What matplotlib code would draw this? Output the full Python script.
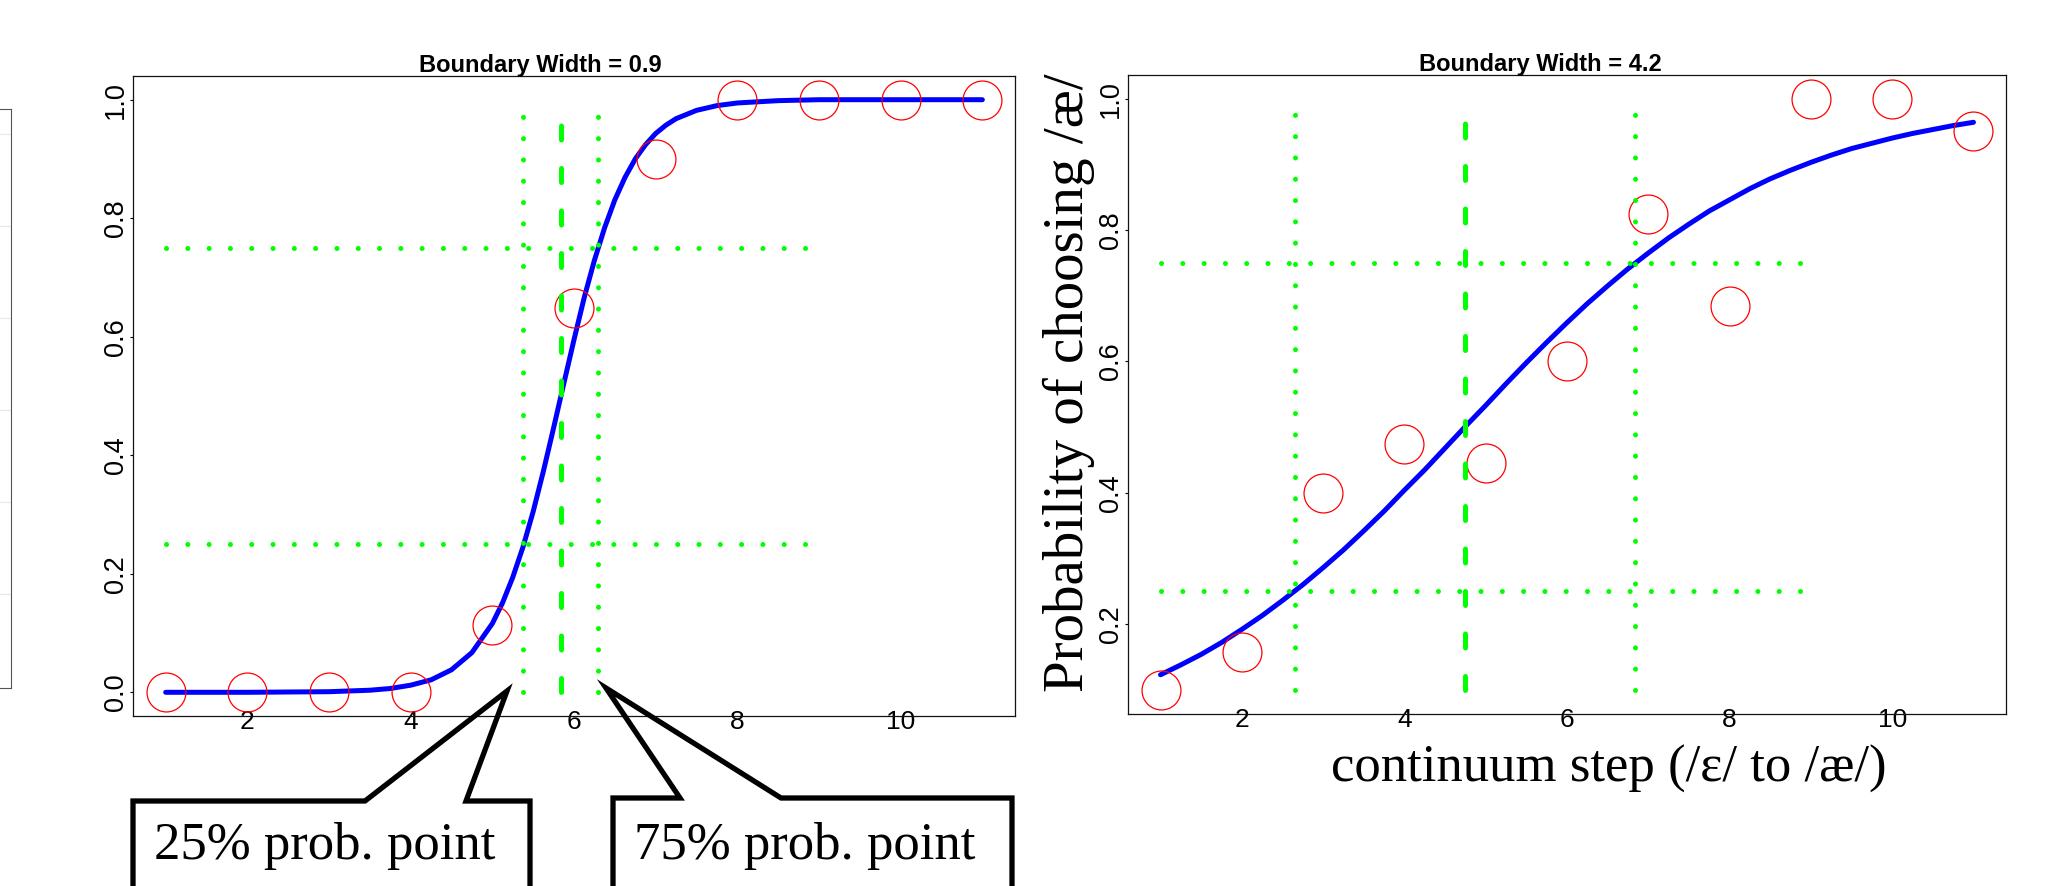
import matplotlib
matplotlib.use('Agg')
import matplotlib.pyplot as plt
from matplotlib.lines import Line2D
from matplotlib.ticker import FormatStrFormatter

# --- data ---
steps = [1, 2, 3, 4, 5, 6, 7, 8, 9, 10, 11]

narrow_resp = [0.0, 0.0, 0.0, 0.0, 0.113, 0.649, 0.90, 1.0, 1.0, 1.0, 1.0]
wide_resp = [0.10, 0.158, 0.40, 0.474, 0.445, 0.60, 0.825, 0.685, 1.0, 1.0, 0.951]

# fitted curves
narrow_fit_x = [1, 2, 3, 3.5, 3.75, 4, 4.25, 4.5, 4.75, 5, 5.125, 5.25, 5.375,
                5.5, 5.625, 5.75, 5.875, 6, 6.125, 6.25, 6.375, 6.5, 6.625,
                6.75, 6.875, 7, 7.125, 7.25, 7.5, 7.75, 8, 8.5, 9, 10, 11]
narrow_fit_y = [0.0, 0.0, 0.001, 0.0035, 0.0064, 0.012, 0.021, 0.038, 0.067,
                0.116, 0.151, 0.194, 0.245, 0.305, 0.373, 0.446, 0.521, 0.595,
                0.666, 0.729, 0.784, 0.831, 0.869, 0.90, 0.924, 0.943, 0.957,
                0.968, 0.982, 0.990, 0.9945, 0.9984, 1.0, 1.0, 1.0]

wide_fit_x = [1, 1.25, 1.5, 1.75, 2, 2.25, 2.5, 2.75, 3, 3.25, 3.5, 3.75, 4,
              4.25, 4.5, 4.75, 5, 5.25, 5.5, 5.75, 6, 6.25, 6.5, 6.75, 7, 7.25,
              7.5, 7.75, 8, 8.25, 8.5, 8.75, 9, 9.25, 9.5, 9.75, 10, 10.25,
              10.5, 10.75, 11]
wide_fit_y = [0.123, 0.138, 0.154, 0.172, 0.192, 0.213, 0.236, 0.260, 0.286,
              0.313, 0.342, 0.372, 0.404, 0.435, 0.468, 0.501, 0.533, 0.566,
              0.598, 0.629, 0.659, 0.688, 0.715, 0.741, 0.765, 0.788, 0.809,
              0.829, 0.846, 0.863, 0.878, 0.891, 0.903, 0.914, 0.924, 0.932,
              0.940, 0.947, 0.953, 0.959, 0.964]

# 25%, 50%, 75% points
narrow_bounds = [5.38, 5.84, 6.295]
wide_bounds = [2.65, 4.745, 6.836]

titles = ['Boundary Width = 0.9', 'Boundary Width = 4.2']
x_ticks = [2, 4, 6, 8, 10]
left_yticks = [0.0, 0.2, 0.4, 0.6, 0.8, 1.0]
right_yticks = [0.2, 0.4, 0.6, 0.8, 1.0]

side_grid = [94, 186, 278, 370, 462, 554]

W, H = 2056, 886
fig = plt.figure(figsize=(W / 100, H / 100), dpi=100)
fig.patch.set_facecolor('white')

GREEN = '#00ff00'
SANS = ['Liberation Sans', 'DejaVu Sans']
SERIF = ['Liberation Serif', 'DejaVu Serif']


def fx(px):
    return px / W


def fy(py):
    return 1 - py / H


def panel(rect, resp, fit_x, fit_y, bounds, ylo, yhi, yticks):
    ax = fig.add_axes(rect)
    ax.plot(fit_x, fit_y, color='#0000ff', lw=3.6, solid_capstyle='round',
            solid_joinstyle='round', zorder=2)
    ax.plot(steps, resp, 'o', ms=28, mfc='none', mec='#ff0000', mew=0.9,
            zorder=3)
    dot = dict(color=GREEN, lw=3.6, dash_capstyle='round', zorder=4)
    for b in (bounds[0], bounds[2]):
        ax.plot([b, b], [ylo, yhi], dashes=(0.01, 4.25), **dot)
    ax.plot([bounds[1], bounds[1]], [ylo, yhi], dashes=(2.8, 5.7), **dot)
    for h in (0.25, 0.75):
        ax.plot([1, 9], [h, h], dashes=(0.01, 4.25), **dot)

    pad = (max(resp) - min(resp)) * 0.04
    ax.set_xlim(0.6, 11.4)
    ax.set_ylim(min(resp) - pad, max(resp) + pad)
    ax.set_xticks(x_ticks)
    ax.set_yticks(yticks)
    ax.yaxis.set_major_formatter(FormatStrFormatter('%.1f'))
    ax.tick_params(axis='x', length=0, pad=-4, labelsize=19)
    ax.tick_params(axis='y', length=2.2, width=0.8, pad=0.5, labelsize=19.5,
                   labelrotation=90)
    for lbl in ax.get_xticklabels() + ax.get_yticklabels():
        lbl.set_family(SANS)
    for lbl in ax.get_yticklabels():
        lbl.set_va('center')
    for s in ax.spines.values():
        s.set_linewidth(0.9)
        s.set_color('#111111')
    return ax


ax1 = panel([fx(133), fy(716), fx(1015 - 133), (716 - 76) / H],
            narrow_resp, narrow_fit_x, narrow_fit_y, narrow_bounds, 0.0, 1.0,
            left_yticks)
ax2 = panel([fx(1128), fy(713.5), fx(2006 - 1128), (713.5 - 75) / H],
            wide_resp, wide_fit_x, wide_fit_y, wide_bounds, 0.1, 1.0,
            right_yticks)

fig.text(fx(540), fy(72), titles[0], ha='center', va='baseline',
         fontsize=17, fontweight='bold', family=SANS)
fig.text(fx(1540), fy(71), titles[1], ha='center', va='baseline',
         fontsize=17, fontweight='bold', family=SANS)

fig.text(fx(1609), fy(782), 'continuum step (/\u025b/ to /\u00e6/)',
         ha='center', va='baseline', fontsize=38, family=SERIF)
fig.text(fx(1083), fy(383), 'Probability of choosing /\u00e6/', rotation=90,
         rotation_mode='anchor', ha='center', va='baseline', fontsize=41,
         family=SERIF)

# partial panel cut off at the left edge
ax0 = fig.add_axes([-0.05, fy(688), 0.05 + fx(11), (688 - 109) / H])
ax0.set_xlim(0, 1)
ax0.set_ylim(0, 579)
for g in side_grid:
    ax0.axhline(g, color='#e8e8e8', lw=0.8)
ax0.set_xticks([])
ax0.set_yticks([])
for s in ax0.spines.values():
    s.set_color('#555555')
    s.set_linewidth(0.8)

# callout boxes
callouts = [
    ([(133, 900), (133, 801), (365, 801), (507, 691), (466, 801), (530, 801),
      (530, 900)], '25% prob. point', 325),
    ([(613, 900), (613, 798), (680, 798), (606, 688), (781, 798), (1012, 798),
      (1012, 900)], '75% prob. point', 805),
]
for pts, label, cx in callouts:
    line = Line2D([fx(p[0]) for p in pts], [fy(p[1]) for p in pts],
                  transform=fig.transFigure, color='black', lw=3.8,
                  solid_joinstyle='miter')
    fig.add_artist(line)
    fig.text(fx(cx), fy(859), label, ha='center', va='baseline',
             fontsize=38, family=SERIF)

fig.savefig('out.png', dpi=100, facecolor='white')
